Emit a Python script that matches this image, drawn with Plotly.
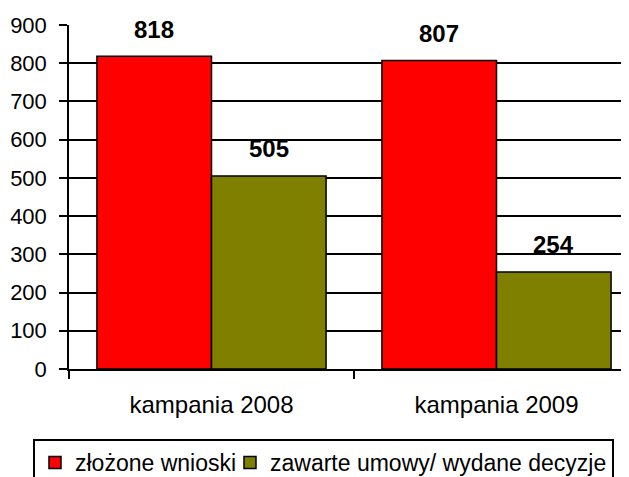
import plotly.graph_objects as go

categories = ["kampania 2008", "kampania 2009"]
series_names = ["złożone wnioski", "zawarte umowy/ wydane decyzje"]
wnioski = [818, 807]
umowy = [505, 254]
y_ticks = [0, 100, 200, 300, 400, 500, 600, 700, 800, 900]

colors = ["#FF0000", "#808000"]
FONT = "Liberation Sans, Arial, sans-serif"

fig = go.Figure()
fig.add_trace(go.Bar(
    x=categories, y=wnioski, name=series_names[0], legendwidth=150,
    marker=dict(color=colors[0], line=dict(color="black", width=1.5)),
))
fig.add_trace(go.Bar(
    x=categories, y=umowy, name=series_names[1],
    marker=dict(color=colors[1], line=dict(color="black", width=1.5)),
))

offsets = [-57.3, 57.3]
for vals, off in zip([wnioski, umowy], offsets):
    for c, v in zip(categories, vals):
        fig.add_annotation(
            x=c, y=v, xref="x", yref="y", text=f"<b>{v}</b>",
            showarrow=False, xshift=off, yshift=27, yanchor="middle",
            font=dict(family=FONT, size=24, color="black"),
        )

fig.update_layout(
    width=629, height=477,
    margin=dict(l=61, r=0, t=17, b=116, autoexpand=False),
    paper_bgcolor="white", plot_bgcolor="white",
    barmode="group", bargap=0.196, bargroupgap=0,
    font=dict(family=FONT, size=24, color="black"),
    showlegend=True,
    legend=dict(
        orientation="h", x=-0.0634, y=-0.2035, xanchor="left", yanchor="top",
        bordercolor="black", borderwidth=2, bgcolor="white",
        font=dict(family=FONT, size=23, color="black"),
        itemwidth=30, traceorder="normal",
    ),
)
fig.update_xaxes(
    type="category", range=[-0.5, 1.493],
    showline=True, linecolor="black", linewidth=1.5,
    ticks="outside", tickson="boundaries", ticklen=8, tickwidth=1.5, tickcolor="black",
    ticklabelstandoff=13, showgrid=False,
    tickfont=dict(family=FONT, size=24),
)
fig.update_yaxes(
    range=[0, 900], tickvals=y_ticks,
    showline=True, linecolor="black", linewidth=1.5,
    ticks="outside", ticklen=8, tickwidth=1.5, tickcolor="black",
    showgrid=True, gridcolor="black", gridwidth=1.5, zeroline=False,
    ticklabelstandoff=8,
    tickfont=dict(family=FONT, size=22),
)

fig.write_html("out.html")
